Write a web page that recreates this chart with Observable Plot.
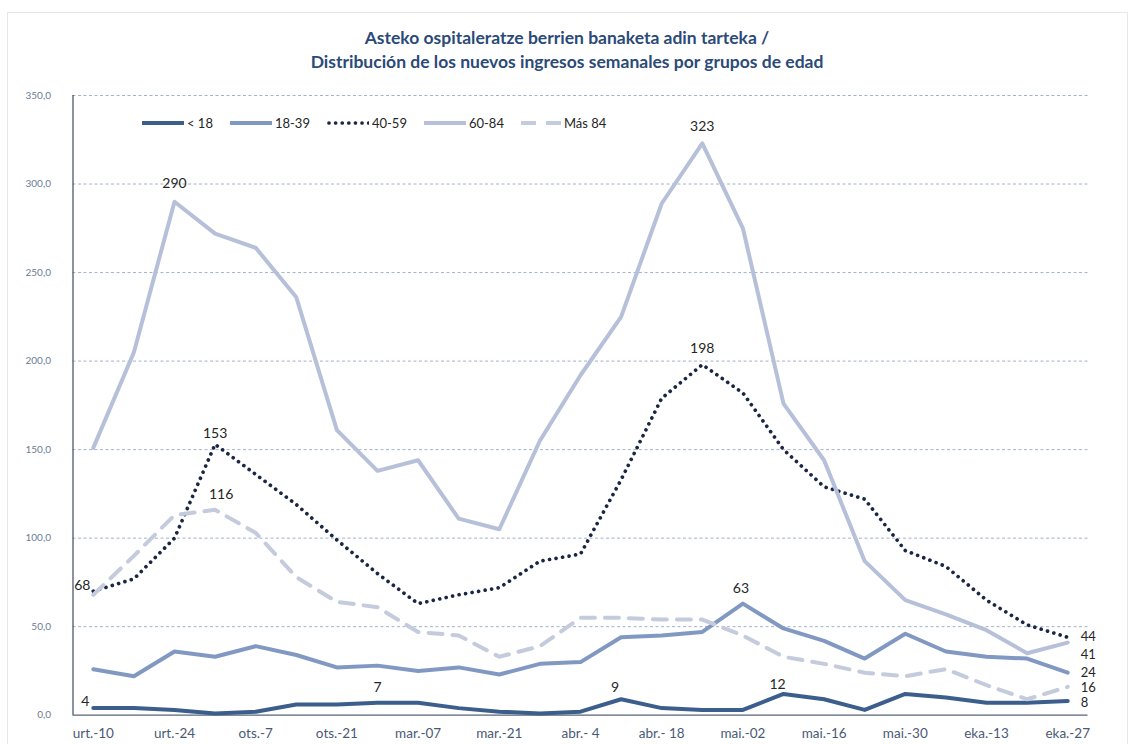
<!DOCTYPE html>
<html><head><meta charset="utf-8">
<script src="https://cdn.jsdelivr.net/npm/d3@7"></script>
<script src="https://cdn.jsdelivr.net/npm/@observablehq/plot@0.6"></script>
<style>
body{margin:0;background:#fff;font-family:Lato,"Open Sans",sans-serif;}
#wrap{position:relative;width:1134px;height:744px;overflow:hidden;background:#fff;}
#frame{position:absolute;left:7px;top:12px;width:1119px;height:760px;border:1px solid #e4e8ee;}
#title{position:absolute;top:26px;left:0;width:1134px;text-align:center;color:#2B4A78;font-weight:bold;font-size:17.5px;line-height:24px;}
#chart{position:absolute;top:80px;left:0;}
#legend{position:absolute;top:114px;left:142px;display:flex;gap:17px;align-items:center;font-size:13px;color:#262626;height:18px;}
#legend .item{display:flex;align-items:center;gap:3px;}
</style></head>
<body><div id="wrap">
<div id="frame"></div>
<div id="title">Asteko ospitaleratze berrien banaketa adin tarteka /<br>Distribución de los nuevos ingresos semanales por grupos de edad</div>
<div id="chart"></div>
<div id="legend"></div>
</div>
<script>
// ---- data ----
const tickLabels = ["urt.-10","urt.-24","ots.-7","ots.-21","mar.-07","mar.-21","abr.- 4","abr.- 18","mai.-02","mai.-16","mai.-30","eka.-13","eka.-27"];
const seriesNames = ["< 18","18-39","40-59","60-84","Más 84"];
const u18   = [4,4,3,1,2,6,6,7,7,4,2,1,2,9,4,3,3,12,9,3,12,10,7,7,8];
const a1839 = [26,22,36,33,39,34,27,28,25,27,23,29,30,44,45,47,63,49,42,32,46,36,33,32,24];
const a4059 = [70,77,100,153,136,119,99,80,63,68,72,87,91,133,179,198,182,150,129,122,93,84,65,51,44];
const a6084 = [151,205,290,272,264,236,161,138,144,111,105,155,192,225,289,323,275,176,144,87,65,57,48,35,41];
const mas84 = [68,90,113,116,103,78,64,61,47,45,33,39,55,55,54,54,45,33,29,24,22,26,17,9,16];

// ---- styles ----
const styles = {
  "< 18":   {stroke:"#3B5E8C", strokeWidth:4},
  "18-39":  {stroke:"#8199C2", strokeWidth:4},
  "40-59":  {stroke:"#1A2744", strokeWidth:3.7, strokeDasharray:"0.01,6.6", strokeLinecap:"round"},
  "60-84":  {stroke:"#B6C0D8", strokeWidth:4},
  "Más 84": {stroke:"#C4CBDD", strokeWidth:4, strokeDasharray:"14,10"}
};
const valuesBy = {"< 18":u18,"18-39":a1839,"40-59":a4059,"60-84":a6084,"Más 84":mas84};
const rows = seriesNames.flatMap(s => valuesBy[s].map((v,i)=>({s,i,v})));

// labelled points (offsets are style only)
const labelSpecs = [
  {s:"Más 84", i:0, dx:-11, dy:-9},
  {s:"< 18", i:0, dx:-8, dy:-7},
  {s:"< 18", i:7, dx:0, dy:-15},
  {s:"< 18", i:13, dx:-6, dy:-12},
  {s:"< 18", i:17, dx:-6, dy:-9},
  {s:"18-39", i:16, dx:-2, dy:-15},
  {s:"40-59", i:3, dx:0, dy:-11},
  {s:"40-59", i:15, dx:0, dy:-16},
  {s:"60-84", i:2, dx:0, dy:-18},
  {s:"60-84", i:15, dx:0, dy:-17},
  {s:"Más 84", i:3, dx:6, dy:-15},
  {s:"40-59", i:24, dx:13, dy:0, end:true},
  {s:"60-84", i:24, dx:13, dy:12, end:true},
  {s:"18-39", i:24, dx:13, dy:0, end:true},
  {s:"Más 84", i:24, dx:13, dy:1, end:true},
  {s:"< 18", i:24, dx:13, dy:1.5, end:true}
];

const yTicks = d3.range(0, 351, 50);
const fmt = d => d3.format(".1f")(d).replace(".", ",");

const marks = [
  Plot.gridY(yTicks.filter(d => d > 0), {stroke:"#8DA0BC", strokeOpacity:1, strokeWidth:0.8, strokeDasharray:"3,2.5"}),
  Plot.axisY(yTicks, {label:null, tickSize:0, tickPadding:22, tickFormat:fmt, fontSize:10, color:"#6B7C96"}),
  Plot.axisX(d3.range(0, 25, 2), {label:null, tickSize:0, tickPadding:13, tickFormat:i => tickLabels[i/2], fontSize:13.5, color:"#4A5A75"}),
  Plot.ruleY([0], {stroke:"#59657A", strokeWidth:1.2}),
  Plot.ruleX([-0.5], {stroke:"#3F4B5E", strokeWidth:1.2}),
  ...seriesNames.map(s => Plot.line(rows.filter(d => d.s === s), {x:"i", y:"v", strokeLinejoin:"round", ...styles[s]})),
  ...labelSpecs.map(sp => Plot.text(rows.filter(d => d.s === sp.s && d.i === sp.i), {
    x:"i", y:"v", text:d => String(d.v), dx:sp.dx, dy:sp.dy,
    textAnchor: sp.end ? "start" : "middle", fontSize: sp.end ? 13 : 14, fill:"#262626"
  }))
];

const chart = Plot.plot({
  width:1134, height:664,
  marginLeft:72.5, marginRight:46.5, marginTop:15, marginBottom:29.3,
  style:{fontFamily:"Lato, 'Open Sans', sans-serif", background:"transparent", overflow:"visible"},
  x:{domain:[-0.5, 24.5], axis:null, label:null},
  y:{domain:[0, 350], axis:null, label:null},
  marks
});
document.getElementById("chart").appendChild(chart);

// legend
const leg = document.getElementById("legend");
seriesNames.forEach(s => {
  const st = styles[s];
  const item = document.createElement("div");
  item.className = "item";
  const w = s === "Más 84" ? 40 : 42;
  item.innerHTML = `<svg width="${w}" height="10"><line x1="${st.strokeLinecap==='round'?2:0}" y1="5" x2="${w}" y2="5" stroke="${st.stroke}" stroke-width="${st.strokeWidth}" ${st.strokeDasharray?`stroke-dasharray="${s==='Más 84'?'15,10':st.strokeDasharray}"`:''} ${st.strokeLinecap?`stroke-linecap="${st.strokeLinecap}"`:''}/></svg><span>${s}</span>`;
  leg.appendChild(item);
});
</script>
</body></html>
